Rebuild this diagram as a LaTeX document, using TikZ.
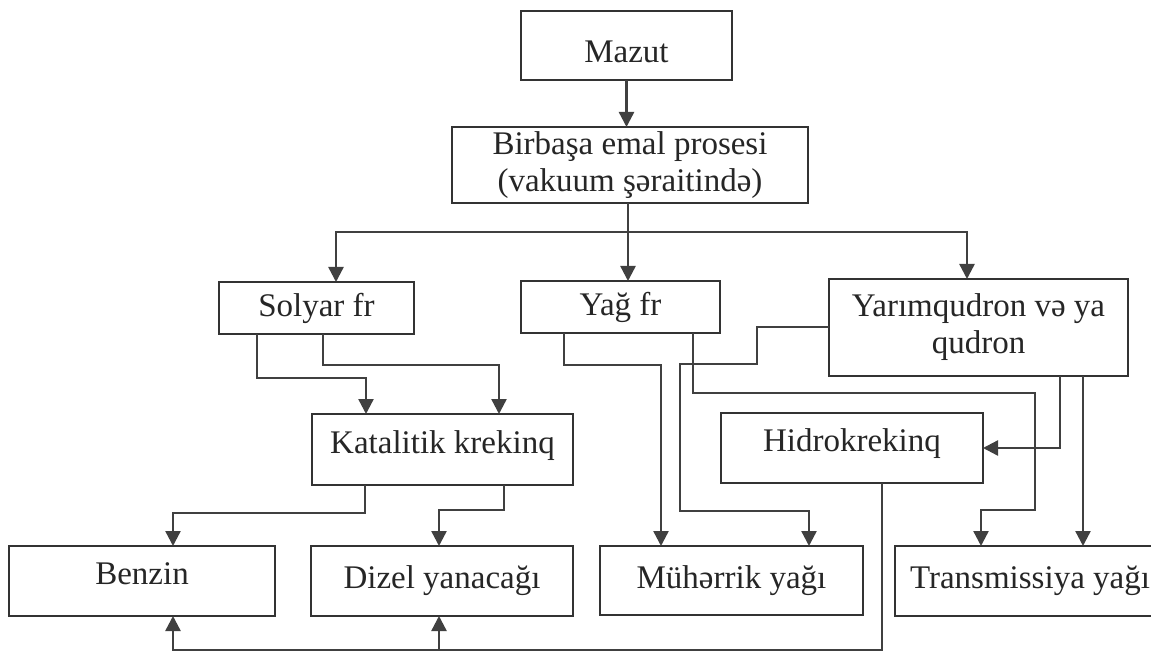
\documentclass[tikz,border=0pt]{standalone}
\usepackage{fontspec}
\setmainfont{Liberation Serif}
\usetikzlibrary{arrows.meta,calc}
\begin{document}
\begin{tikzpicture}[x=0.5pt,y=-0.5pt,
  box/.style={draw=black!80, line width=1.4pt, inner sep=0pt, outer sep=0pt,
    anchor=north west, align=center, text=black!85,
    font=\fontsize{16.5}{18.5}\selectfont},
  raised/.style={text height=12pt, text depth=9pt},
  conn/.style={draw=black!75, line width=1.2pt},
  arr/.style={conn, -{Triangle[length=7.5pt,width=7.5pt]}}
]
\clip (0,0) rectangle (1151,652);
\fill[white] (0,0) rectangle (1151,652);

% boxes
\node[box, minimum width=105.5pt, minimum height=34.5pt, text height=17pt, text depth=0pt] (mazut) at (521,11) {Mazut};
\node[box, minimum width=178pt, minimum height=38pt] (birb) at (452,127) {Birbaşa emal prosesi\\(vakuum şəraitində)};
\node[box, minimum width=97.5pt, minimum height=26pt] (solyar) at (219,282) {Solyar fr};
\node[box, minimum width=99.5pt, minimum height=26pt] (yag) at (521,281) {Yağ fr};
\node[box, minimum width=149.5pt, minimum height=48.5pt] (yarim) at (829,279) {Yarımqudron və ya\\qudron};
\node[box, raised, text depth=8pt, minimum width=130.5pt, minimum height=35.5pt] (katal) at (312,414) {Katalitik krekinq};
\node[box, raised, minimum width=131pt, minimum height=35pt] (hidro) at (721,413) {Hidrokrekinq};
\node[box, raised, minimum width=133pt, minimum height=35pt] (benzin) at (9,546) {Benzin};
\node[box, minimum width=131pt, minimum height=35pt] (dizel) at (311,546) {Dizel yanacağı};
\node[box, minimum width=131.5pt, minimum height=34.5pt] (muh) at (600,546) {Mühərrik yağı};
\node[box, minimum width=135pt, minimum height=35pt] (trans) at (895,546) {Transmissiya yağı};

% Mazut -> Birbasa
\draw[arr] (mazut.south) -- (mazut.south |- birb.north);

% distribution
\coordinate (dj) at (628,232);
\draw[conn] (birb.south -| dj) -- (dj);
\draw[arr] (dj) -- (dj |- yag.north);
\draw[arr] (dj) -| ($(solyar.north west)+(117,0)$);
\draw[arr] (dj) -| ($(yarim.north west)+(138,0)$);

% Solyar -> Katalitik
\draw[arr] ($(solyar.south west)+(38,0)$) |- ($(katal.north west)+(54,-36)$) -- ($(katal.north west)+(54,0)$);
\draw[arr] ($(solyar.south west)+(104,0)$) |- ($(katal.north west)+(187,-49)$) -- ($(katal.north west)+(187,0)$);

% Katalitik -> Benzin, Dizel
\draw[arr] ($(katal.south west)+(53,0)$) |- ($(benzin.north west)+(164,-33)$) -- ($(benzin.north west)+(164,0)$);
\draw[arr] ($(katal.south west)+(192,0)$) |- ($(dizel.north west)+(128,-36)$) -- ($(dizel.north west)+(128,0)$);

% Yag -> Muherrik
\draw[arr] ($(yag.south west)+(43,0)$) |- ($(muh.north west)+(61,-181)$) -- ($(muh.north west)+(61,0)$);
% Yag -> Transmissiya
\draw[arr] ($(yag.south west)+(172,0)$) |- ($(trans.north west)+(140,-153)$) |- ($(trans.north west)+(86,-36)$) -- ($(trans.north west)+(86,0)$);

% Yarim -> Muherrik
\draw[arr] ($(yarim.north west)+(0,48)$) -- ++(-72,0) -- ++(0,37) -- ++(-77,0) -- ++(0,147) -| ($(muh.north west)+(209,0)$);
% Yarim -> Hidrokrekinq
\draw[arr] ($(yarim.south west)+(231,0)$) |- (hidro.east);
% Yarim -> Transmissiya
\draw[arr] ($(yarim.south west)+(254,0)$) -- ++(0,170);

% Hidrokrekinq -> Benzin, Dizel
\draw[arr] ($(hidro.south west)+(161,0)$) |- ($(benzin.south west)+(164,34)$) -- ($(benzin.south west)+(164,0)$);
\draw[arr] ($(dizel.south west)+(128,34)$) -- ($(dizel.south west)+(128,0)$);
\end{tikzpicture}
\end{document}
